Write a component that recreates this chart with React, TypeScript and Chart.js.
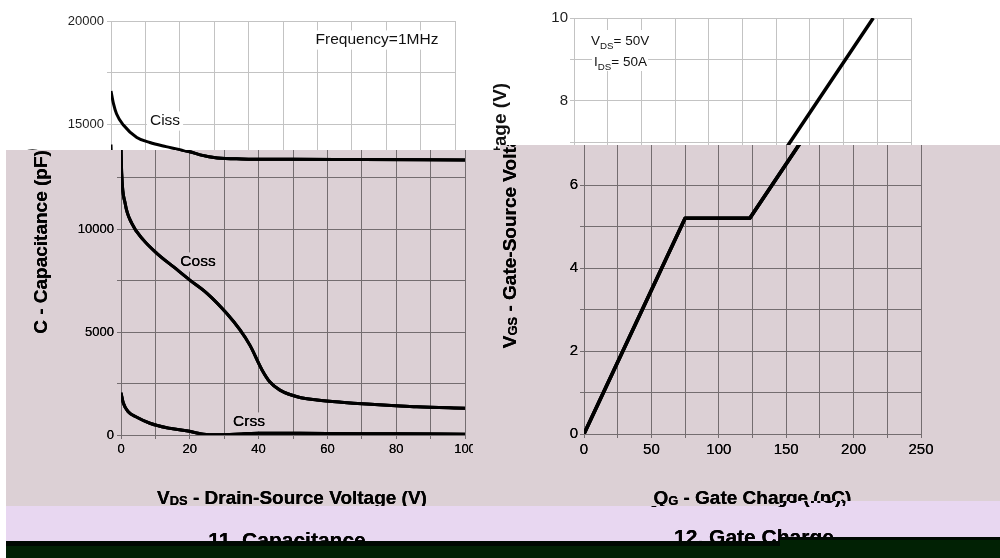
import React, { useEffect, useRef } from "react";
import { Chart, registerables } from "chart.js";

Chart.register(...registerables);

const FONT = '"Liberation Sans", Arial, Helvetica, sans-serif';
const GRID = "#c3c3c3";
const TICK_COLOR = "#1e1e1e";
const TEXT_COLOR = "#111111";

// ---------- Figure 11: Capacitance ----------
const vdsLabels = [0, 20, 40, 60, 80, 100];
const capLabels = [0, 5000, 10000, 15000, 20000];

const cissV = [0, 0.7, 1.6, 3.6, 7.5, 11.3, 16, 20, 23, 28, 35, 50, 70, 100];
const cissC = [16600, 16000, 15500, 14950, 14350, 14100, 13900, 13750, 13600, 13450, 13400, 13380, 13370, 13350];

const cossV = [0, 0.2, 1.2, 3.1, 6.5, 10.4, 15.2, 20, 25, 30.7, 34.6, 37.5, 41, 43.3, 46.2, 52, 57, 64, 71.4, 80, 86, 100];
const cossC = [14000, 12700, 11250, 10280, 9470, 8820, 8170, 7520, 6880, 5910, 5100, 4350, 3160, 2570, 2180, 1820, 1700, 1590, 1500, 1420, 1370, 1300];

const crssV = [0, 0.7, 2.1, 4.6, 8.4, 13.3, 19, 24, 28, 35, 40, 60, 80, 100];
const crssC = [2050, 1540, 1130, 860, 570, 350, 210, 40, 10, 50, 90, 70, 60, 40];

// ---------- Figure 12: Gate Charge ----------
const qgLabels = [0, 50, 100, 150, 200, 250];
const vgsLabels = [0, 2, 4, 6, 8, 10];
const gateQ = [0, 75, 123, 222];
const gateV = [0, 5.2, 5.2, 10];

const LEFT_W = 463;
const RIGHT_W = 537;
const PAGE_W = 1000;
const PAGE_H = 558;

type Part = { t: string; sub?: boolean };

function drawRich(
  ctx: CanvasRenderingContext2D,
  parts: Part[],
  x: number,
  y: number,
  size: number,
  bold: boolean,
  align: "left" | "center",
  subScale: number,
  subDrop: number
) {
  const weight = bold ? "bold " : "";
  const fontFor = (p: Part) => `${weight}${p.sub ? size * subScale : size}px ${FONT}`;
  let w = 0;
  for (const p of parts) {
    ctx.font = fontFor(p);
    w += ctx.measureText(p.t).width;
  }
  let cx = align === "center" ? x - w / 2 : x;
  ctx.textAlign = "left";
  ctx.textBaseline = "alphabetic";
  for (const p of parts) {
    ctx.font = fontFor(p);
    ctx.fillText(p.t, cx, p.sub ? y + subDrop : y);
    cx += ctx.measureText(p.t).width;
  }
}

function boxedLabel(ctx: CanvasRenderingContext2D, text: string, cx: number, cy: number, size: number) {
  ctx.font = `${size}px ${FONT}`;
  const w = ctx.measureText(text).width;
  ctx.fillStyle = "#ffffff";
  ctx.fillRect(cx - w / 2 - 3, cy - size * 0.62, w + 6, size * 1.24);
  ctx.fillStyle = TEXT_COLOR;
  ctx.textAlign = "center";
  ctx.textBaseline = "middle";
  ctx.fillText(text, cx, cy);
}

const whiteBg = {
  id: "whiteBg",
  beforeDraw(chart: any) {
    const { ctx, width, height } = chart;
    ctx.save();
    ctx.fillStyle = "#ffffff";
    ctx.fillRect(0, 0, width, height);
    ctx.restore();
  },
};

function pts(xs: number[], ys: number[]) {
  return xs.map((x, i) => ({ x, y: ys[i] }));
}

function lineSet(data: { x: number; y: number }[], width: number, smooth: boolean) {
  return {
    data,
    borderColor: "#000000",
    borderWidth: width,
    pointRadius: 0,
    fill: false,
    borderJoinStyle: "round" as const,
    cubicInterpolationMode: smooth ? ("monotone" as const) : ("default" as const),
    tension: 0,
  };
}

function axes(
  xMin: number,
  xMax: number,
  xStep: number,
  xLabels: number[],
  yMin: number,
  yMax: number,
  yStep: number,
  yLabels: number[],
  fontSize: number,
  yPad: number
) {
  const tickFont = { family: FONT, size: fontSize };
  return {
    x: {
      type: "linear" as const,
      min: xMin,
      max: xMax,
      ticks: {
        stepSize: xStep,
        autoSkip: false,
        maxRotation: 0,
        font: tickFont,
        color: TICK_COLOR,
        padding: 3,
        callback: (v: any) => (xLabels.includes(Number(v)) ? String(v) : ""),
      },
      grid: { color: GRID, lineWidth: 1, tickLength: 4 },
      border: { color: GRID, width: 1 },
      afterFit: (s: any) => {
        s.height = 30;
        s.paddingLeft = 0;
        s.paddingRight = 0;
      },
    },
    y: {
      type: "linear" as const,
      min: yMin,
      max: yMax,
      ticks: {
        stepSize: yStep,
        autoSkip: false,
        font: tickFont,
        color: TICK_COLOR,
        padding: yPad,
        callback: (v: any) => (yLabels.includes(Number(v)) ? String(v) : ""),
      },
      grid: { color: GRID, lineWidth: 1, tickLength: 4 },
      border: { color: GRID, width: 1 },
      afterFit: (s: any) => {
        s.width = 111;
        s.paddingTop = 0;
        s.paddingBottom = 0;
      },
    },
  };
}

function composeBands(over: HTMLCanvasElement, left: HTMLCanvasElement, right: HTMLCanvasElement) {
  const base = document.createElement("canvas");
  base.width = PAGE_W;
  base.height = PAGE_H;
  const b = base.getContext("2d")!;
  b.fillStyle = "#ffffff";
  b.fillRect(0, 0, PAGE_W, PAGE_H);
  b.drawImage(left, 0, 0);
  b.drawImage(right, LEFT_W, 0);
  const src = b.getImageData(0, 0, PAGE_W, PAGE_H).data;
  const octx = over.getContext("2d")!;
  const img = octx.createImageData(PAGE_W, PAGE_H);
  const d = img.data;
  const lut = new Float32Array(256);
  for (let i = 0; i < 256; i++) lut[i] = Math.pow(i / 255, 2.4);
  const MAUVE = [220, 208, 213];
  const LAV = [232, 215, 241];
  for (let y = 0; y < PAGE_H; y++) {
    for (let x = 6; x < PAGE_W; x++) {
      const o = (y * PAGE_W + x) * 4;
      const leftSide = x < 500;
      const top = leftSide ? 150 : 145;
      const dy = leftSide ? 2 : 1;
      const lowLeft = x < 780;
      const mb = lowLeft ? 506 : 501;
      const lb = lowLeft ? 541 : 537;
      const bb = lowLeft ? 546 : 540;
      let tint: number[] | null = null;
      let sx = x;
      let sy = y;
      if (y >= top && y < mb) {
        tint = MAUVE;
        sx = x - 10;
        sy = y - dy;
      } else if (y >= mb && y < lb) {
        tint = LAV;
      } else if (y >= lb && y < bb) {
        d[o] = 0; d[o + 1] = 9; d[o + 2] = 2; d[o + 3] = 255;
        continue;
      } else if (y >= bb) {
        d[o] = 1; d[o + 1] = 33; d[o + 2] = 4; d[o + 3] = 255;
        continue;
      } else {
        continue;
      }
      let r = 255, g = 255, bl = 255;
      if (sx >= 0 && sy >= 0) {
        const i = (sy * PAGE_W + sx) * 4;
        r = src[i]; g = src[i + 1]; bl = src[i + 2];
      }
      d[o] = tint[0] * lut[r];
      d[o + 1] = tint[1] * lut[g];
      d[o + 2] = tint[2] * lut[bl];
      d[o + 3] = 255;
    }
  }
  octx.putImageData(img, 0, 0);
}

export default function App() {
  const leftRef = useRef<HTMLCanvasElement | null>(null);
  const rightRef = useRef<HTMLCanvasElement | null>(null);
  const overRef = useRef<HTMLCanvasElement | null>(null);

  useEffect(() => {
    if (!leftRef.current || !rightRef.current || !overRef.current) return;

    const capText = {
      id: "capText",
      beforeDatasetsDraw(chart: any) {
        const ctx = chart.ctx as CanvasRenderingContext2D;
        ctx.save();
        boxedLabel(ctx, "Frequency=1MHz", 377, 40, 15.5);
        boxedLabel(ctx, "Ciss", 165, 121, 15.5);
        boxedLabel(ctx, "Coss", 188, 260, 15.5);
        boxedLabel(ctx, "Crss", 239, 420, 15.5);
        ctx.restore();
      },
      afterDraw(chart: any) {
        const ctx = chart.ctx as CanvasRenderingContext2D;
        ctx.save();
        ctx.fillStyle = TEXT_COLOR;
        drawRich(ctx, [{ t: "V" }, { t: "DS", sub: true }, { t: " - Drain-Source Voltage (V)" }], 282, 502, 19, true, "center", 0.68, 1);
        ctx.save();
        ctx.translate(30, 240);
        ctx.rotate(-Math.PI / 2);
        drawRich(ctx, [{ t: "C - Capacitance (pF)" }], 0, 7, 19, true, "center", 0.68, 1);
        ctx.restore();
        drawRich(ctx, [{ t: "11. Capacitance" }], 287, 547, 21, true, "center", 0.68, 1);
        ctx.restore();
      },
    };

    const gateText = {
      id: "gateText",
      beforeDatasetsDraw(chart: any) {
        const ctx = chart.ctx as CanvasRenderingContext2D;
        ctx.save();
        ctx.fillStyle = "#ffffff";
        ctx.fillRect(126, 30, 59, 21);
        ctx.fillRect(129, 51, 56, 20);
        ctx.fillStyle = TEXT_COLOR;
        drawRich(ctx, [{ t: "V" }, { t: "DS", sub: true }, { t: "= 50V" }], 128, 45, 13.5, false, "left", 0.72, 4);
        drawRich(ctx, [{ t: "I" }, { t: "DS", sub: true }, { t: "= 50A" }], 131, 66, 13.5, false, "left", 0.72, 4);
        ctx.restore();
      },
      afterDraw(chart: any) {
        const ctx = chart.ctx as CanvasRenderingContext2D;
        ctx.save();
        ctx.fillStyle = TEXT_COLOR;
        drawRich(ctx, [{ t: "Q" }, { t: "G", sub: true }, { t: " - Gate Charge (nC)," }], 282, 503, 19, true, "center", 0.68, 1);
        ctx.save();
        ctx.translate(36, 215);
        ctx.rotate(-Math.PI / 2);
        drawRich(ctx, [{ t: "V" }, { t: "GS", sub: true }, { t: " - Gate-Source Voltage (V)" }], 0, 7, 19, true, "center", 0.68, 1);
        ctx.restore();
        drawRich(ctx, [{ t: "12. Gate Charge" }], 291, 544, 21, true, "center", 0.68, 1);
        ctx.restore();
      },
    };

    const common = {
      responsive: false,
      animation: false as const,
      devicePixelRatio: 1,
      events: [] as any[],
      plugins: {
        legend: { display: false },
        tooltip: { enabled: false },
        title: { display: false },
      },
    };

    const leftChart = new Chart(leftRef.current, {
      type: "line",
      data: {
        datasets: [
          lineSet(pts(cissV, cissC), 3, true),
          lineSet(pts(cossV, cossC), 3, true),
          lineSet(pts(crssV, crssC), 3, true),
        ],
      },
      options: {
        ...common,
        layout: { autoPadding: false, padding: { left: 0, right: LEFT_W - 455, top: 21, bottom: PAGE_H - 433 - 30 } },
        scales: axes(0, 100, 10, vdsLabels, 0, 20000, 2500, capLabels, 13, 3),
      } as any,
      plugins: [whiteBg, capText],
    });

    const rightChart = new Chart(rightRef.current, {
      type: "line",
      data: {
        datasets: [lineSet(pts(gateQ, gateV), 3.5, false)],
      },
      options: {
        ...common,
        layout: { autoPadding: false, padding: { left: 0, right: RIGHT_W - 448, top: 18, bottom: PAGE_H - 433 - 30 } },
        scales: axes(0, 250, 25, qgLabels, 0, 10, 1, vgsLabels, 15, 2),
      } as any,
      plugins: [whiteBg, gateText],
    });

    const over = overRef.current;
    const l = leftRef.current;
    const r = rightRef.current;
    composeBands(over, l, r);
    const raf = requestAnimationFrame(() => composeBands(over, l, r));

    return () => {
      cancelAnimationFrame(raf);
      leftChart.destroy();
      rightChart.destroy();
    };
  }, []);

  return (
    <div
      style={{
        position: "fixed",
        left: 0,
        top: 0,
        width: PAGE_W,
        height: PAGE_H,
        background: "#ffffff",
        overflow: "hidden",
      }}
    >
      <canvas
        ref={leftRef}
        width={LEFT_W}
        height={PAGE_H}
        style={{ position: "absolute", left: 0, top: 0, width: LEFT_W, height: PAGE_H }}
      />
      <canvas
        ref={rightRef}
        width={RIGHT_W}
        height={PAGE_H}
        style={{ position: "absolute", left: LEFT_W, top: 0, width: RIGHT_W, height: PAGE_H }}
      />
      <canvas
        ref={overRef}
        width={PAGE_W}
        height={PAGE_H}
        style={{ position: "absolute", left: 0, top: 0, width: PAGE_W, height: PAGE_H, pointerEvents: "none" }}
      />
    </div>
  );
}
